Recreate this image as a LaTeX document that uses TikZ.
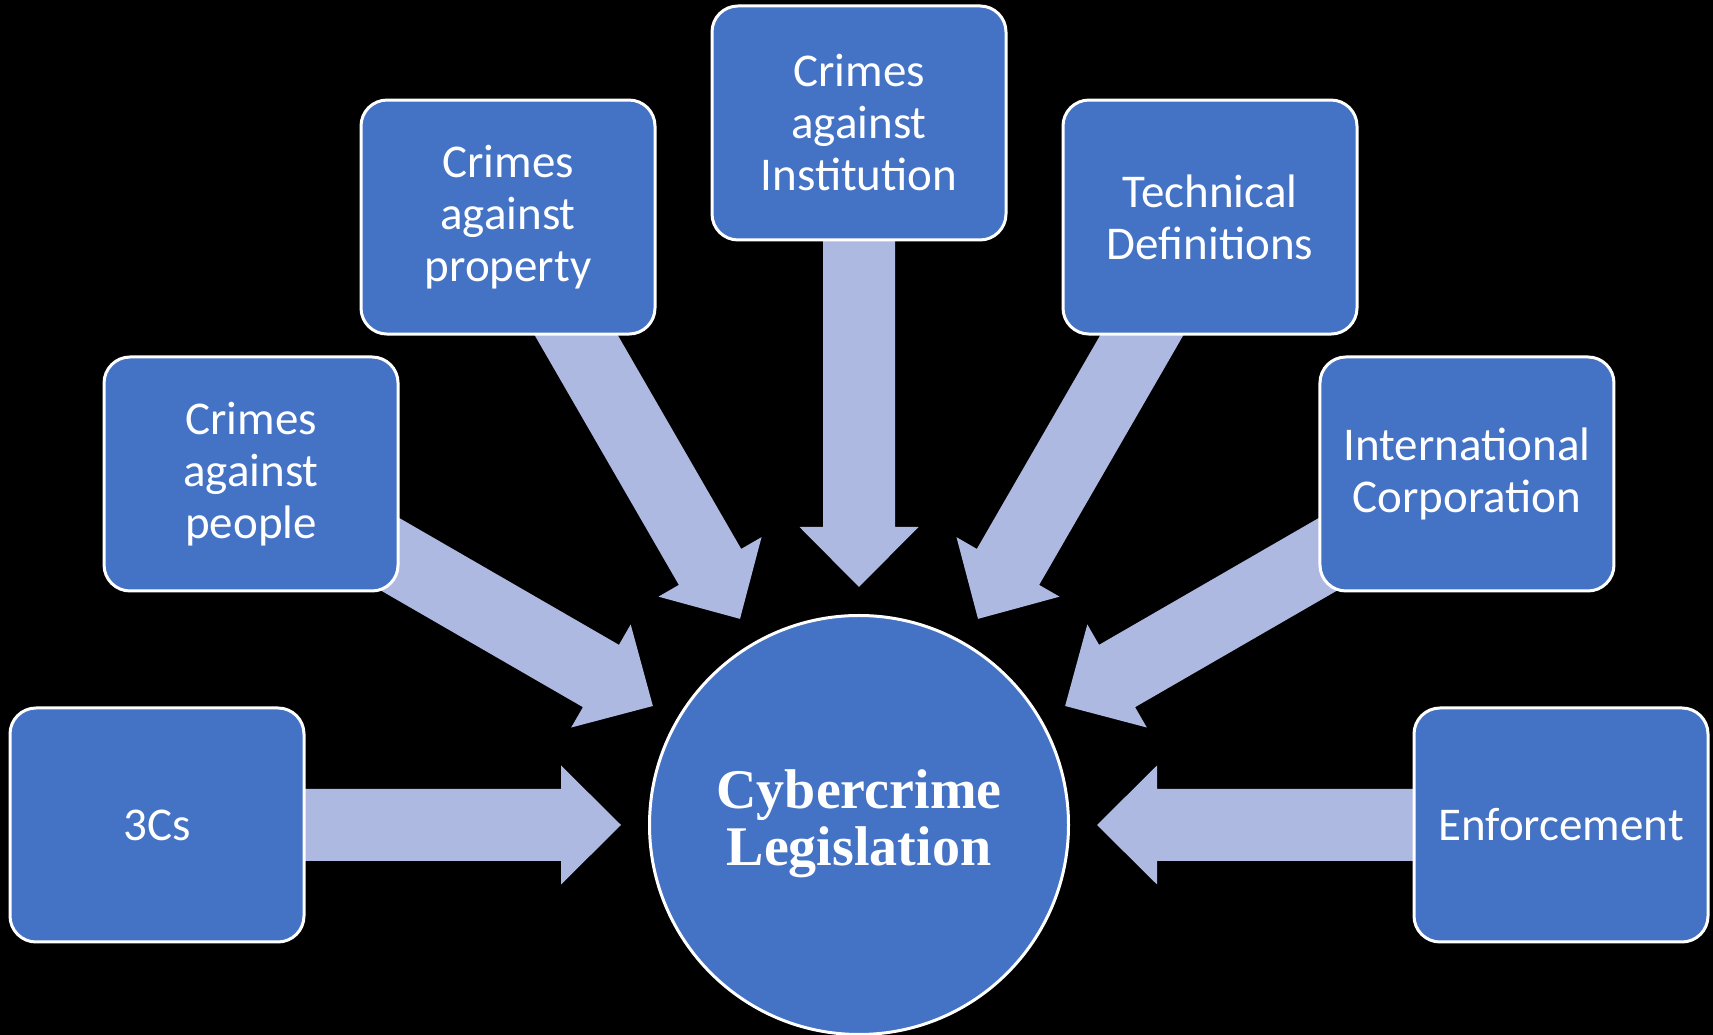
\documentclass[tikz,border=0pt]{standalone}
\usepackage{fontspec}
\setmainfont{Carlito}
\newfontfamily\titlefont{Liberation Serif}
\usetikzlibrary{calc,backgrounds}
\definecolor{boxblue}{RGB}{68,114,196}
\definecolor{arrowfill}{RGB}{173,185,224}
\newcommand{\bigarrow}[1]{% #1 = angle of box seen from hub
  \begin{scope}[shift={(hub.center)}, rotate=#1]
    \fill[arr] (238,0) -- (298,59.5) -- (298,36) -- (600,36) -- (600,-36) -- (298,-36) -- (298,-59.5) -- cycle;
  \end{scope}}
\begin{document}
\begin{tikzpicture}[x=1pt,y=1pt,
  box/.style={draw=white, line width=3pt, fill=boxblue, rounded corners=26pt,
    minimum width=294pt, minimum height=234pt, text=white, align=center,
    font=\fontsize{47}{52}\selectfont, inner sep=0pt},
  hub/.style={circle, draw=white, line width=3pt, fill=boxblue, minimum size=419pt,
    text=white, align=center, font=\titlefont\bfseries\fontsize{56}{59}\selectfont, inner sep=0pt},
  arr/.style={fill=arrowfill}]
\useasboundingbox (0,0) rectangle (1713,1035);
\coordinate (C) at (859,210);
\node[hub] (hub) at (C) {\raisebox{-4pt}{\begin{tabular}{@{}c@{}}Cybercrime\\[-2pt]Legislation\end{tabular}}};
\node[box] (threec) at ($(C)+(180:702)$) {3Cs};
\node[box] (people) at ($(C)+(150:702)$) {Crimes\\against\\people};
\node[box] (property) at ($(C)+(120:702)$) {Crimes\\against\\property};
\node[box] (inst) at ($(C)+(90:702)$) {Crimes\\against\\Institution};
\node[box] (tech) at ($(C)+(60:702)$) {Technical\\Definitions};
\node[box] (intl) at ($(C)+(30:702)$) {International\\Corporation};
\node[box] (enf) at ($(C)+(0:702)$) {Enforcement};
\begin{scope}[on background layer]
  \fill[black] (0,0) rectangle (1713,1035);
  \foreach \a in {180,150,120,90,60,30,0} {\bigarrow{\a}}
\end{scope}
\end{tikzpicture}
\end{document}
